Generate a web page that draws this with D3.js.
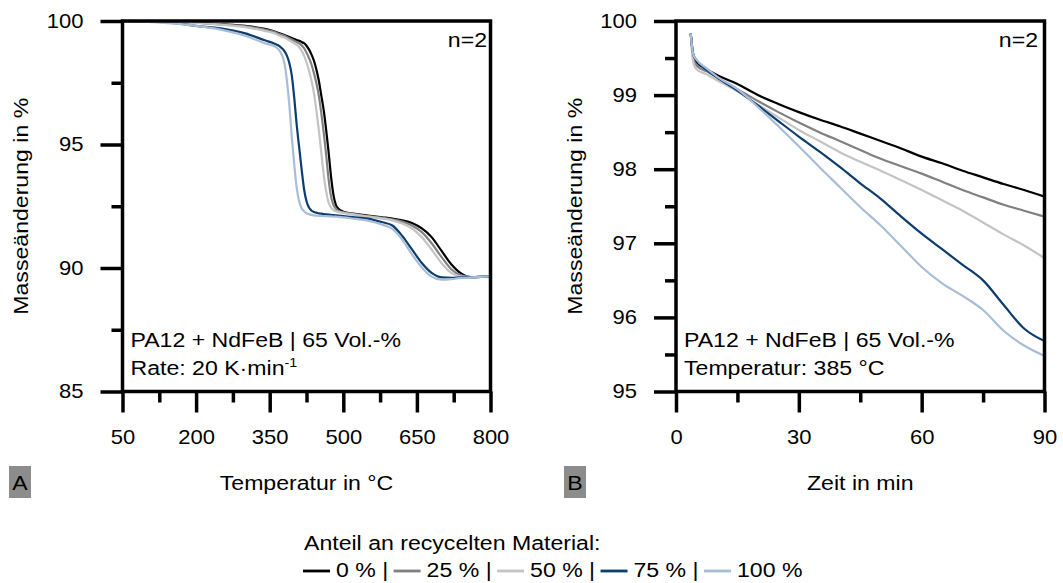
<!DOCTYPE html>
<html><head><meta charset="utf-8">
<script src="https://cdn.jsdelivr.net/npm/d3@7"></script>
<style>
body{margin:0;background:#fff}
svg{display:block}
text{font-family:"Liberation Sans",Arial,sans-serif;fill:#000}
</style>
</head><body>
<svg id="c" width="1063" height="583"></svg>
<script>
// ---------- data ----------
const seriesLabels = ["0 %", "25 %", "50 %", "75 %", "100 %"];
const seriesColors = ["#000000", "#808080", "#c4c4c4", "#0b3d6f", "#a9bdd6"];

// Panel A: temperature in °C
const tempA = [50,150,200,250,300,340,360,370,380,385,390,395,400,405,410,415,420,425,430,435,440,445,450,455,460,465,470,475,480,485,490,500,520,550,580,600,620,640,660,680,700,720,740,760,780,800];
const massA0 = [100,99.97,99.93,99.87,99.8,99.68,99.57,99.5,99.43,99.39,99.35,99.31,99.27,99.23,99.2,99.15,99.1,99.0,98.85,98.65,98.4,98.05,97.6,97.0,96.4,95.6,94.7,93.7,92.95,92.55,92.4,92.28,92.2,92.12,92.05,92.0,91.93,91.82,91.6,91.25,90.7,90.15,89.78,89.63,89.64,89.66];
const massA25 = [100,99.97,99.93,99.86,99.78,99.65,99.55,99.47,99.4,99.35,99.3,99.25,99.2,99.15,99.1,99.02,98.9,98.72,98.5,98.25,97.9,97.5,97.0,96.3,95.5,94.6,93.6,92.9,92.55,92.4,92.32,92.25,92.18,92.1,92.03,91.97,91.88,91.72,91.45,91.0,90.45,89.95,89.7,89.63,89.64,89.66];
const massA50 = [100,99.96,99.92,99.85,99.75,99.6,99.5,99.4,99.33,99.28,99.22,99.16,99.1,99.03,98.95,98.8,98.6,98.33,98.0,97.6,97.1,96.4,95.6,94.7,93.8,93.1,92.65,92.45,92.35,92.3,92.27,92.23,92.17,92.08,92.0,91.93,91.8,91.6,91.25,90.75,90.2,89.8,89.65,89.63,89.64,89.66];
const massA75 = [100,99.92,99.8,99.7,99.5,99.22,99.08,98.98,98.78,98.6,98.3,97.8,96.9,95.8,94.9,94.0,93.2,92.7,92.45,92.33,92.27,92.24,92.21,92.2,92.18,92.17,92.16,92.15,92.14,92.13,92.12,92.1,92.06,92.0,91.85,91.72,91.3,90.75,90.2,89.8,89.62,89.6,89.62,89.63,89.64,89.66];
const massA100 = [100,99.9,99.8,99.65,99.4,99.1,98.97,98.8,98.3,97.6,96.6,95.3,94.2,93.25,92.7,92.42,92.3,92.22,92.18,92.15,92.13,92.12,92.11,92.11,92.1,92.1,92.09,92.09,92.08,92.08,92.07,92.05,92.0,91.92,91.75,91.58,91.15,90.55,90.02,89.65,89.53,89.55,89.6,89.62,89.64,89.66];

// Panel B: time in min
const timeB = [3.6,4.2,5,7.5,10,15,20,25,30,35,40,45,50,55,60,65,70,75,80,85,90];
const massB0 = [99.83,99.55,99.45,99.35,99.27,99.15,99.0,98.88,98.77,98.67,98.58,98.48,98.38,98.28,98.17,98.08,97.98,97.89,97.8,97.72,97.63];
const massB25 = [99.83,99.5,99.4,99.32,99.24,99.08,98.92,98.77,98.63,98.5,98.38,98.26,98.14,98.04,97.94,97.83,97.72,97.62,97.52,97.44,97.36];
const massB50 = [99.83,99.45,99.35,99.28,99.2,99.05,98.87,98.7,98.53,98.38,98.23,98.1,97.98,97.85,97.72,97.58,97.44,97.28,97.12,96.97,96.8];
const massB75 = [99.83,99.55,99.47,99.34,99.24,99.06,98.86,98.65,98.44,98.24,98.03,97.81,97.6,97.36,97.13,96.92,96.71,96.5,96.17,95.85,95.68];
const massB100 = [99.83,99.55,99.48,99.36,99.25,99.08,98.84,98.58,98.31,98.03,97.76,97.49,97.24,96.96,96.68,96.46,96.29,96.1,95.82,95.62,95.48];

// ticks
const xTicksA = [50,200,350,500,650,800];
const xMinorA = [125,275,425,575,725];
const yTicksA = [85,90,95,100];
const yMinorA = [87.5,92.5,97.5];
const xTicksB = [0,30,60,90];
const xMinorB = [15,45,75];
const yTicksB = [95,96,97,98,99,100];
const yMinorB = [95.5,96.5,97.5,98.5,99.5];

// ---------- drawing ----------
const svg = d3.select("#c");
svg.append("rect").attr("width",1063).attr("height",583).attr("fill","#fff");
const SX = 1.1;
const FONT = 21;

function stext(g, x, y, str, size, anchor, rot) {
  return g.append("text")
    .attr("transform", `translate(${x},${y})` + (rot ? ` rotate(${rot})` : "") + ` scale(${SX},1)`)
    .attr("font-size", size)
    .attr("text-anchor", anchor || "start")
    .text(str);
}

function panel(cfg) {
  const x = d3.scaleLinear().domain(cfg.xDomain).range([cfg.x0, cfg.x1]);
  const y = d3.scaleLinear().domain(cfg.yDomain).range([cfg.y1, cfg.y0]);
  const g = svg.append("g");

  const line = d3.line().x(d => x(d[0])).y(d => y(d[1])).curve(d3.curveMonotoneX);
  cfg.series.forEach((vals, i) => {
    g.append("path")
      .datum(cfg.xs.map((v, j) => [v, vals[j]]))
      .attr("d", line)
      .attr("fill", "none")
      .attr("stroke", seriesColors[i])
      .attr("stroke-width", 2.2)
      .attr("stroke-linejoin", "round");
  });

  function styleAxis(sel) {
    sel.select(".domain").remove();
    sel.selectAll(".tick line").attr("stroke", "#000").attr("stroke-width", 3.5);
  }
  g.append("g").attr("transform", `translate(0,${cfg.y1})`)
    .call(d3.axisBottom(x).tickValues(cfg.xMinor).tickSize(11).tickFormat(""))
    .call(styleAxis);
  const gx = g.append("g").attr("transform", `translate(0,${cfg.y1})`)
    .call(d3.axisBottom(x).tickValues(cfg.xTicks).tickSize(21).tickPadding(17).tickFormat(d3.format("d")))
    .call(styleAxis);
  gx.selectAll(".tick text").attr("font-size", 20).attr("font-family", null)
    .attr("transform", `scale(${SX},1)`);

  g.append("g").attr("transform", `translate(${cfg.x0},0)`)
    .call(d3.axisLeft(y).tickValues(cfg.yMinor).tickSize(11).tickFormat(""))
    .call(styleAxis);
  const gy = g.append("g").attr("transform", `translate(${cfg.x0},0)`)
    .call(d3.axisLeft(y).tickValues(cfg.yTicks).tickSize(22).tickPadding(17).tickFormat(d3.format("d")))
    .call(styleAxis);
  gy.selectAll(".tick text").attr("font-size", 20).attr("font-family", null)
    .each(function() {
      const t = d3.select(this);
      const xx = +t.attr("x");
      t.attr("x", 0).attr("transform", `translate(${xx},0) scale(${SX},1)`);
    });

  g.append("rect")
    .attr("x", cfg.x0).attr("y", cfg.y0)
    .attr("width", cfg.x1 - cfg.x0).attr("height", cfg.y1 - cfg.y0)
    .attr("fill", "none").attr("stroke", "#000").attr("stroke-width", 3.5);

  // texts
  stext(g, cfg.yTitleX, (cfg.y0 + cfg.y1) / 2, "Masseänderung in %", FONT, "middle", -90);
  stext(g, (cfg.x0 + cfg.x1) / 2, 490, cfg.xTitle, FONT, "middle");
  stext(g, cfg.nX, 47, "n=2", FONT, "end");
  stext(g, cfg.x0 + 8, 347, "PA12 + NdFeB | 65 Vol.-%", FONT, "start");
  const t2 = stext(g, cfg.x0 + 8, 375, cfg.line2, FONT, "start");
  if (cfg.sup) {
    t2.append("tspan").attr("font-size", 13).attr("dy", -8).text(cfg.sup);
  }
  // panel letter
  g.append("rect").attr("x", cfg.boxX).attr("y", 466).attr("width", 22).attr("height", 32).attr("fill", "#8c8c8c");
  stext(g, cfg.boxX + 11, 490, cfg.letter, FONT, "middle");
}

panel({
  x0: 122.5, x1: 490.5, y0: 21, y1: 391.5,
  xDomain: [50, 800], yDomain: [85, 100],
  xs: tempA, series: [massA0, massA25, massA50, massA75, massA100],
  xTicks: xTicksA, xMinor: xMinorA, yTicks: yTicksA, yMinor: yMinorA,
  xTitle: "Temperatur in °C", yTitleX: 28, nX: 487,
  line2: "Rate: 20 K·min", sup: "-1",
  letter: "A", boxX: 9
});
panel({
  x0: 676, x1: 1044.5, y0: 21, y1: 391.5,
  xDomain: [0, 90], yDomain: [95, 100],
  xs: timeB, series: [massB0, massB25, massB50, massB75, massB100],
  xTicks: xTicksB, xMinor: xMinorB, yTicks: yTicksB, yMinor: yMinorB,
  xTitle: "Zeit in min", yTitleX: 582, nX: 1038,
  line2: "Temperatur: 385 °C", sup: null,
  letter: "B", boxX: 564
});

// ---------- legend ----------
const lg = svg.append("g");
stext(lg, 304, 550, "Anteil an recycelten Material:", FONT, "start");
let cx = 303;
seriesLabels.forEach((lab, i) => {
  lg.append("line").attr("x1", cx).attr("x2", cx + 27).attr("y1", 571).attr("y2", 571)
    .attr("stroke", seriesColors[i]).attr("stroke-width", 2.8);
  cx += 33;
  const str = lab + (i < seriesLabels.length - 1 ? " | " : "");
  const t = stext(lg, cx, 577, str, FONT, "start");
  t.style("white-space", "pre");
  cx += t.node().getComputedTextLength() * SX - 1;
});
</script>
</body></html>
